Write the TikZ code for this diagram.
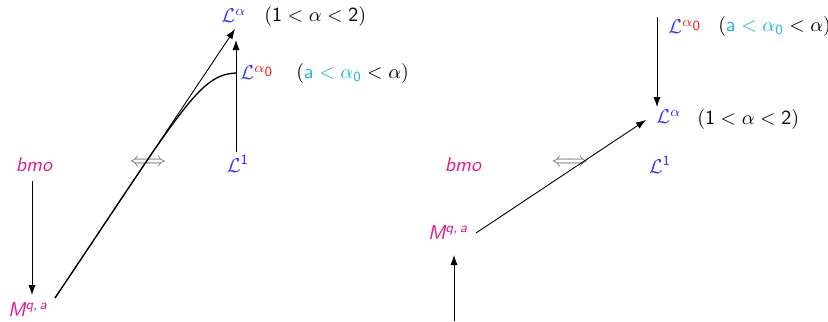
\documentclass[tikz,border=0pt]{standalone}
\usetikzlibrary{arrows.meta}
\definecolor{lblue}{RGB}{51,51,255}
\definecolor{mmag}{RGB}{230,25,140}
\definecolor{rred}{RGB}{255,30,30}
\definecolor{ccyan}{RGB}{30,180,230}
\begin{document}
\begin{tikzpicture}[x=0.5pt,y=-0.5pt,
  lbl/.style={inner sep=0pt,font=\fontsize{10}{12}\selectfont},
  sp/.style={lbl,text=lblue},
  mg/.style={lbl,text=mmag,font=\fontsize{10}{12}\selectfont\sffamily\itshape},
  eqv/.style={inner sep=0pt,text=black!60},
  arr/.style={-{Latex[length=5pt,width=3.6pt]},line width=0.45pt},
  crv/.style={line width=0.65pt}]
\useasboundingbox (0,0) rectangle (828,321);
% left panel
\node[sp] (La1) at (234,16) {$\mathcal{L}^{\alpha}$};
\node[lbl,anchor=west] (ca1) at (264,16) {$(\mathsf{1} < \alpha < \mathsf{2})$};
\node[sp,anchor=west] (La0) at (240,73) {$\mathcal{L}^{\color{rred}\alpha_{\scriptstyle\mathsf{0}}}$};
\node[lbl,anchor=west] (ca0) at (296,73) {$({\color{ccyan}\mathsf{a} < \alpha_{\mathsf{0}}} < \alpha)$};
\node[mg] (bmo1) at (34,165) {bmo};
\node[eqv] (iff1) at (148,163) {$\Longleftrightarrow$};
\node[sp] (L1a) at (238,164) {$\mathcal{L}^{\mathsf{1}}$};
\node[mg] (M1) at (28,310) {M\textsuperscript{q,\,a}};
\draw[arr] ([shift={(-2,16)}]bmo1.center) -- ([shift={(4,-15)}]M1.center);
\draw[arr] ([shift={(27,-12)}]M1.center) -- ([shift={(1,13)}]La1.center);
\draw[arr] ([shift={(-2,-12)}]L1a.center) -- ([shift={(2,24)}]La1.center);
\draw[crv] ([shift={(27,-12)}]M1.center) .. controls (185,104) and (200,74) .. ([shift={(-3,0)}]La0.west);
% right panel
\node[sp,anchor=west] (Lb0) at (668,27) {$\mathcal{L}^{\color{rred}\alpha_{\scriptstyle\mathsf{0}}}$};
\node[lbl,anchor=west] (cb0) at (718,27) {$({\color{ccyan}\mathsf{a} < \alpha_{\mathsf{0}}} < \alpha)$};
\node[sp,anchor=west] (Lb) at (656,117) {$\mathcal{L}^{\alpha}$};
\node[lbl,anchor=west] (cb) at (697,119) {$(\mathsf{1} < \alpha < \mathsf{2})$};
\node[mg] (bmo2) at (463,165) {bmo};
\node[eqv] (iff2) at (570,163) {$\Longleftrightarrow$};
\node[sp] (L1b) at (660,165) {$\mathcal{L}^{\mathsf{1}}$};
\node[mg] (M2) at (448,233) {M\textsuperscript{q,\,a}};
\draw[arr] ([shift={(-11,-10)}]Lb0.west) -- ([shift={(1,-10)}]Lb.west);
\draw[arr] ([shift={(28,0)}]M2.center) -- ([shift={(-10,3)}]Lb.west);
\coordinate (bot) at (454,321);
\draw[arr] (bot) -- ([shift={(6,22)}]M2.center);
\end{tikzpicture}
\end{document}
